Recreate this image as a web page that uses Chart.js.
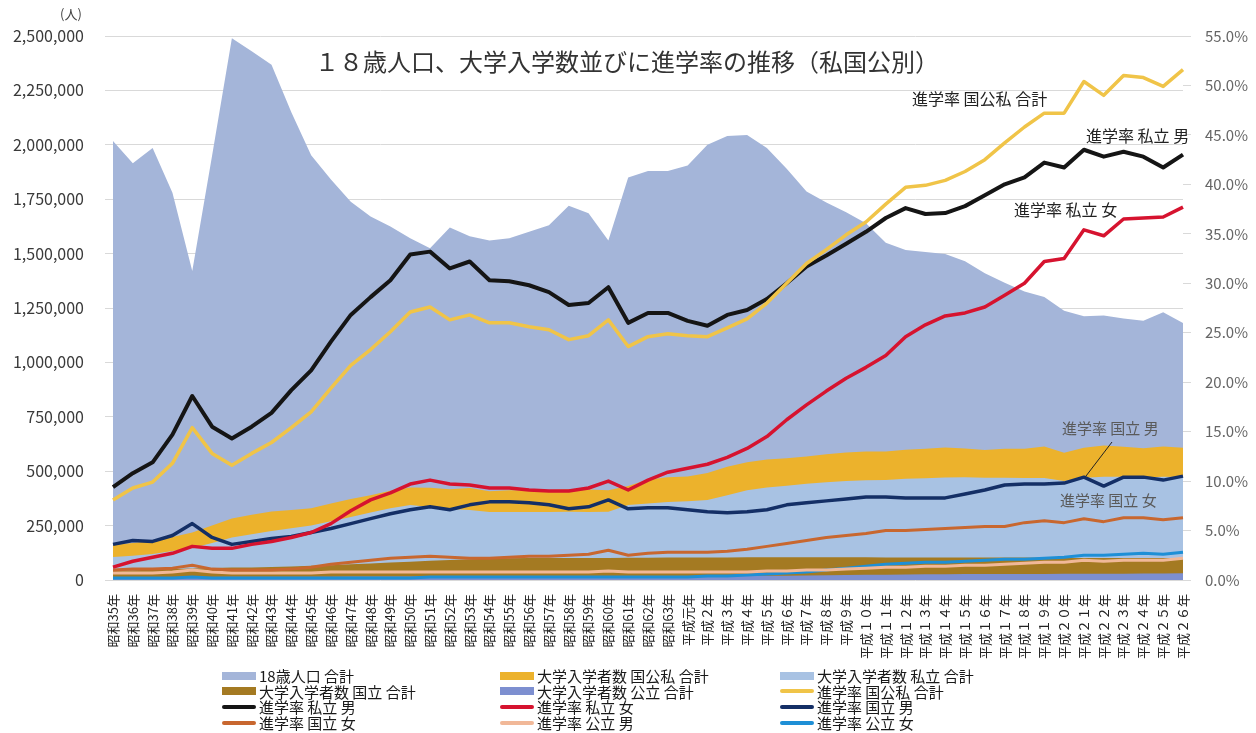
<!DOCTYPE html>
<html lang="ja">
<head>
<meta charset="utf-8">
<title>18歳人口、大学入学数並びに進学率の推移</title>
<script src="https://cdn.jsdelivr.net/npm/chart.js@4.4.1/dist/chart.umd.min.js"></script>
<style>
  html, body { margin: 0; padding: 0; background: #fff; }
  #wrap { position: relative; width: 1256px; height: 733px; overflow: hidden; }
  #c { position: absolute; left: 0; top: 0; }
  #legend {
    position: absolute; left: 222px; top: 668px;
    display: grid; grid-template-columns: 278px 280px 300px; grid-auto-rows: 15.6px;
    font: 15px "Noto Sans CJK JP", sans-serif; color: #1a1a1a;
  }
  #legend .item { display: flex; align-items: center; white-space: nowrap; line-height: 15px; }
  #legend .sw { width: 34px; margin-right: 3px; flex: none; }
</style>
</head>
<body>
<div id="wrap">
  <canvas id="c" width="1256" height="733"></canvas>
  <div id="legend"></div>
</div>
<script>
const FONT = '"Noto Sans CJK JP", sans-serif';

const years = [
  '昭和35年','昭和36年','昭和37年','昭和38年','昭和39年','昭和40年','昭和41年','昭和42年','昭和43年','昭和44年',
  '昭和45年','昭和46年','昭和47年','昭和48年','昭和49年','昭和50年','昭和51年','昭和52年','昭和53年','昭和54年',
  '昭和55年','昭和56年','昭和57年','昭和58年','昭和59年','昭和60年','昭和61年','昭和62年','昭和63年','平成元年',
  '平成２年','平成３年','平成４年','平成５年','平成６年','平成７年','平成８年','平成９年','平成１０年','平成１１年',
  '平成１２年','平成１３年','平成１４年','平成１５年','平成１６年','平成１７年','平成１８年','平成１９年','平成２０年','平成２１年',
  '平成２２年','平成２３年','平成２４年','平成２５年','平成２６年'
];

// 人数（左軸）
const pop18 = [
  2018000, 1915000, 1985000, 1780000, 1420000, 1950000, 2490000, 2430000, 2368000, 2150000,
  1952000, 1840000, 1738000, 1670000, 1624000, 1571000, 1525000, 1620000, 1580000, 1560000,
  1570000, 1600000, 1630000, 1720000, 1685000, 1560000, 1850000, 1880000, 1880000, 1905000,
  2000000, 2040000, 2045000, 1985000, 1890000, 1785000, 1735000, 1690000, 1640000, 1550000,
  1517000, 1507000, 1498000, 1465000, 1410000, 1366000, 1326000, 1300000, 1237000, 1212000,
  1215000, 1202000, 1191000, 1231000, 1181000
];
const entrantsAll = [
  161000, 170000, 180000, 198000, 218000, 250000, 283000, 300000, 315000, 322000,
  330000, 352000, 372000, 390000, 410000, 425000, 424000, 417000, 423000, 408000,
  412000, 413000, 414000, 417000, 416000, 412000, 432000, 462000, 472000, 476000,
  492000, 520000, 541000, 554000, 560000, 568000, 578000, 586000, 590000, 590000,
  599000, 603000, 609000, 604000, 598000, 603000, 603000, 613000, 585000, 608000,
  618000, 612000, 605000, 613000, 608000
];
const entrantsPrivate = [
  106000, 112000, 120000, 133000, 147000, 170000, 195000, 210000, 225000, 238000,
  250000, 270000, 290000, 310000, 330000, 345000, 335000, 326000, 322000, 312000,
  312000, 312000, 313000, 314000, 313000, 314000, 345000, 352000, 358000, 362000,
  368000, 390000, 412000, 425000, 433000, 442000, 449000, 455000, 458000, 460000,
  465000, 468000, 471000, 472000, 470000, 470000, 469000, 469000, 455000, 470000,
  475000, 474000, 471000, 475000, 473000
];
const entrantsNational = [
  44000, 45000, 47000, 50000, 53000, 55000, 57000, 58000, 60000, 62000,
  65000, 68000, 72000, 76000, 80000, 84000, 88000, 92000, 95000, 98000,
  100000, 101000, 101000, 101000, 101000, 101000, 102000, 102000, 103000, 103000,
  103000, 103000, 104000, 104000, 104000, 104000, 104000, 104000, 104000, 103000,
  103000, 103000, 103000, 103000, 103000, 103000, 103000, 102000, 101000, 101000,
  101000, 101000, 101000, 101000, 101000
];
const entrantsPublic = [
  12000, 12000, 13000, 13000, 14000, 14000, 15000, 15000, 15000, 15000,
  15000, 15000, 16000, 16000, 16000, 16000, 16000, 16000, 17000, 17000,
  17000, 17000, 17000, 17000, 17000, 17000, 17000, 18000, 18000, 18000,
  18000, 18000, 19000, 19000, 20000, 21000, 22000, 23000, 24000, 24000,
  25000, 26000, 26000, 27000, 27000, 28000, 28000, 28000, 29000, 29000,
  29000, 29000, 30000, 30000, 31000
];

// 進学率（右軸, %）
const rateAll = [
  8.1, 9.3, 9.9, 11.8, 15.4, 12.8, 11.6, 12.8, 13.9, 15.4,
  17.0, 19.4, 21.7, 23.3, 25.1, 27.1, 27.6, 26.3, 26.8, 26.0,
  26.0, 25.6, 25.3, 24.3, 24.7, 26.3, 23.6, 24.6, 24.9, 24.7,
  24.6, 25.5, 26.4, 28.0, 30.0, 32.0, 33.4, 34.9, 36.2, 38.0,
  39.7, 39.9, 40.4, 41.3, 42.5, 44.2, 45.8, 47.2, 47.2, 50.4,
  49.0, 51.0, 50.8, 49.9, 51.6
];
const ratePrivM = [
  9.4, 10.8, 11.9, 14.7, 18.6, 15.5, 14.3, 15.5, 16.9, 19.2,
  21.2, 24.1, 26.8, 28.6, 30.3, 32.9, 33.2, 31.5, 32.2, 30.3,
  30.2, 29.8, 29.1, 27.8, 28.0, 29.6, 26.0, 27.0, 27.0, 26.2,
  25.7, 26.8, 27.3, 28.4, 30.0, 31.7, 32.8, 34.0, 35.2, 36.6,
  37.6, 37.0, 37.1, 37.8, 38.9, 40.0, 40.7, 42.2, 41.7, 43.5,
  42.8, 43.3, 42.8, 41.7, 43.0
];
const ratePrivF = [
  1.3, 1.9, 2.3, 2.7, 3.4, 3.2, 3.2, 3.6, 3.9, 4.3,
  4.8, 5.7, 7.0, 8.1, 8.8, 9.7, 10.1, 9.7, 9.6, 9.3,
  9.3, 9.1, 9.0, 9.0, 9.3, 10.0, 9.1, 10.1, 10.9, 11.3,
  11.7, 12.4, 13.3, 14.5, 16.2, 17.7, 19.1, 20.4, 21.5, 22.7,
  24.6, 25.8, 26.7, 27.0, 27.6, 28.8, 30.0, 32.2, 32.5, 35.4,
  34.8, 36.5, 36.6, 36.7, 37.7
];
const rateNatM = [
  3.6, 4.0, 3.9, 4.5, 5.7, 4.3, 3.6, 3.9, 4.2, 4.4,
  4.8, 5.2, 5.7, 6.2, 6.7, 7.1, 7.4, 7.1, 7.6, 7.9,
  7.9, 7.8, 7.6, 7.2, 7.4, 8.1, 7.2, 7.3, 7.3, 7.1,
  6.9, 6.8, 6.9, 7.1, 7.6, 7.8, 8.0, 8.2, 8.4, 8.4,
  8.3, 8.3, 8.3, 8.7, 9.1, 9.6, 9.7, 9.7, 9.8, 10.4,
  9.5, 10.4, 10.4, 10.1, 10.5
];
const rateNatF = [
  1.0, 1.1, 1.1, 1.2, 1.5, 1.1, 1.0, 1.0, 1.0, 1.1,
  1.3, 1.6, 1.8, 2.0, 2.2, 2.3, 2.4, 2.3, 2.2, 2.2,
  2.3, 2.4, 2.4, 2.5, 2.6, 3.0, 2.5, 2.7, 2.8, 2.8,
  2.8, 2.9, 3.1, 3.4, 3.7, 4.0, 4.3, 4.5, 4.7, 5.0,
  5.0, 5.1, 5.2, 5.3, 5.4, 5.4, 5.8, 6.0, 5.8, 6.2,
  5.9, 6.3, 6.3, 6.1, 6.3
];
const ratePubM = [
  0.7, 0.7, 0.7, 0.8, 1.0, 0.8, 0.7, 0.7, 0.7, 0.7,
  0.7, 0.8, 0.8, 0.8, 0.8, 0.8, 0.8, 0.8, 0.8, 0.8,
  0.8, 0.8, 0.8, 0.8, 0.8, 0.9, 0.8, 0.8, 0.8, 0.8,
  0.8, 0.8, 0.8, 0.9, 0.9, 1.0, 1.0, 1.1, 1.2, 1.3,
  1.3, 1.4, 1.4, 1.5, 1.5, 1.6, 1.7, 1.8, 1.8, 2.0,
  1.9, 2.0, 2.0, 2.0, 2.2
];
const ratePubF = [
  0.2, 0.2, 0.2, 0.2, 0.3, 0.2, 0.2, 0.2, 0.2, 0.2,
  0.2, 0.2, 0.2, 0.2, 0.2, 0.2, 0.3, 0.3, 0.3, 0.3,
  0.3, 0.3, 0.3, 0.3, 0.3, 0.3, 0.3, 0.3, 0.3, 0.3,
  0.4, 0.4, 0.5, 0.6, 0.7, 0.8, 1.0, 1.2, 1.4, 1.6,
  1.7, 1.8, 1.8, 1.9, 2.0, 2.1, 2.1, 2.2, 2.3, 2.5,
  2.5, 2.6, 2.7, 2.6, 2.8
];

const leftTicks = { min: 0, max: 2500000, step: 250000 };
const rightTicks = { min: 0, max: 55, step: 5 };

// area = 人数（左軸），line = 進学率（右軸）
const area = (label, data, color, order) => ({
  label, data, kind: 'area', yAxisID: 'y', order,
  fill: 'origin', backgroundColor: color, borderColor: 'rgba(0,0,0,0)', borderWidth: 1,
});
const line = (label, data, color, width) => ({
  label, data, kind: 'line', yAxisID: 'y1', order: 0,
  fill: false, borderColor: color, backgroundColor: color, borderWidth: width || 3,
});

const datasets = [
  area('18歳人口 合計', pop18, '#a4b5d9', 5),
  area('大学入学者数 国公私 合計', entrantsAll, '#ecb22c', 4),
  area('大学入学者数 私立 合計', entrantsPrivate, '#a8c2e3', 3),
  area('大学入学者数 国立 合計', entrantsNational, '#a47a22', 2),
  area('大学入学者数 公立 合計', entrantsPublic, '#7d8fd0', 1),
  line('進学率 国公私 合計', rateAll, '#f0c448', 3.5),
  line('進学率 私立 男', ratePrivM, '#151515', 4),
  line('進学率 私立 女', ratePrivF, '#d6132f', 3.5),
  line('進学率 国立 男', rateNatM, '#142f66', 3.5),
  line('進学率 国立 女', rateNatF, '#c8672f'),
  line('進学率 公立 男', ratePubM, '#f1b898'),
  line('進学率 公立 女', ratePubF, '#1e8fd6'),
];

// title, unit and series labels drawn over the plot
const annotations = {
  id: 'annotations',
  afterDatasetsDraw(chart) {
    const { ctx } = chart;
    ctx.save();
    ctx.textBaseline = 'middle';
    ctx.fillStyle = '#333';
    ctx.textAlign = 'center';
    ctx.font = '24px ' + FONT;
    ctx.fillText('１８歳人口、大学入学数並びに進学率の推移（私国公別）', 627, 62);
    ctx.font = '13px ' + FONT;
    ctx.fillStyle = '#444';
    ctx.fillText('(人)', 71, 14);

    ctx.textAlign = 'left';
    ctx.fillStyle = '#222';
    ctx.font = '16px ' + FONT;
    ctx.fillText('進学率 国公私 合計', 912, 99);
    ctx.fillText('進学率 私立 男', 1086, 136);
    ctx.fillText('進学率 私立 女', 1014, 210);
    ctx.fillStyle = '#5a5a5a';
    ctx.font = '15px ' + FONT;
    ctx.fillText('進学率 国立 男', 1062, 428);
    ctx.fillText('進学率 国立 女', 1060, 500);

    // leader from label to the 国立 男 line
    const pt = chart.getDatasetMeta(8).data[49];
    ctx.strokeStyle = '#222';
    ctx.lineWidth = 1;
    ctx.beginPath();
    ctx.moveTo(1112, 442);
    ctx.lineTo(pt.x + 2, pt.y - 1);
    ctx.stroke();
    ctx.restore();
  }
};

new Chart(document.getElementById('c'), {
  type: 'line',
  data: { labels: years, datasets },
  options: {
    responsive: false,
    animation: false,
    layout: { padding: { top: 36, left: 0, right: 0, bottom: 0 } },
    elements: { point: { radius: 0 }, line: { tension: 0, borderJoinStyle: 'round' } },
    plugins: { legend: { display: false }, tooltip: { enabled: false } },
    scales: {
      x: {
        offset: false,
        grid: { display: false },
        border: { display: false },
        ticks: { autoSkip: false, minRotation: 90, maxRotation: 90, padding: 6, color: '#222', font: { family: FONT, size: 13 } },
        afterFit: s => { s.height = 153; },
      },
      y: {
        position: 'left',
        min: leftTicks.min, max: leftTicks.max,
        grid: { color: '#d9d9d9', tickLength: 8 },
        border: { display: false },
        ticks: {
          stepSize: leftTicks.step, padding: 21, color: '#3a3a3a', font: { family: FONT, size: 16 },
          callback: v => v.toLocaleString('en-US'),
        },
        afterFit: s => { s.width = 113; },
      },
      y1: {
        position: 'right',
        min: rightTicks.min, max: rightTicks.max,
        grid: { drawOnChartArea: false, color: '#d9d9d9', tickLength: 8 },
        border: { display: false },
        ticks: {
          stepSize: rightTicks.step, padding: 14, color: '#666', font: { family: FONT, size: 15 },
          callback: v => v.toFixed(1) + '%',
        },
        afterFit: s => { s.width = 73; },
      },
    },
  },
  plugins: [annotations],
});

// legend, 3 columns like the original
let html = '';
datasets.forEach(d => {
  const h = d.kind === 'area' ? 8 : 4;
  const col = d.kind === 'area' ? d.backgroundColor : d.borderColor;
  html += `<div class="item"><span class="sw" style="height:${h}px;background:${col};border-radius:${d.kind === 'line' ? 2 : 0}px"></span>${d.label}</div>`;
});
document.getElementById('legend').innerHTML = html;
</script>
</body>
</html>
